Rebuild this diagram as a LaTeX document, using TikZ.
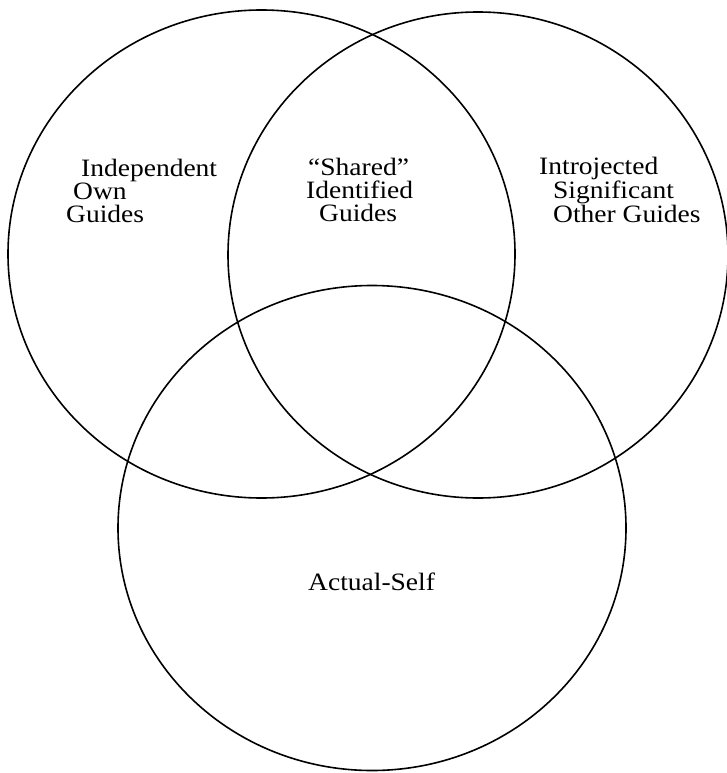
\documentclass[tikz,border=0pt]{standalone}
\usepackage{fontspec}
\setmainfont{Liberation Serif}[FakeStretch=1.1]
\usetikzlibrary{shapes.geometric}
\begin{document}
\begin{tikzpicture}[x=1pt,y=-1pt,
  lbl/.style={anchor=base west, inner sep=0pt, font=\fontsize{25}{26}\selectfont},
  ring/.style={draw=black, line width=1.6pt, ellipse, inner sep=0pt}]
\useasboundingbox (0,0) rectangle (726,773);
\node[ring, minimum width=507pt, minimum height=488pt] (own) at (261.5,254) {};
\node[ring, minimum width=500pt, minimum height=486pt] (other) at (478,255) {};
\node[ring, minimum width=508pt, minimum height=485pt] (actual) at (372,528) {};
% left
\node[lbl] (l1) at (81,176) {Independent};
\node[lbl] (l2) at (73,199) {Own};
\node[lbl] (l3) at (66,222) {Guides};
% middle
\node[lbl] (m1) at (308,175) {“Shared”};
\node[lbl] (m2) at (306,198) {Identified};
\node[lbl] (m3) at (319,221) {Guides};
% right
\node[lbl] (r1) at (539,174) {Introjected};
\node[lbl] (r2) at (553,198) {Significant};
\node[lbl] (r3) at (553,222) {Other Guides};
% bottom
\node[lbl] (a1) at (308,590) {Actual-Self};
\end{tikzpicture}
\end{document}
